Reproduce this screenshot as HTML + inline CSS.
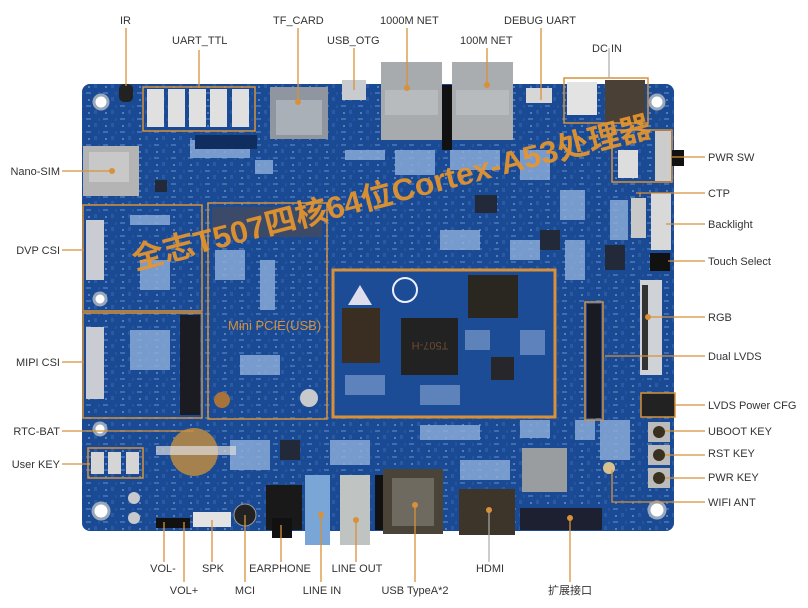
<!DOCTYPE html>
<html><head><meta charset="utf-8"><style>
html,body{margin:0;padding:0;background:#fff;}
svg{display:block;font-family:"Liberation Sans","Noto Sans CJK SC",sans-serif;}
.l{font-size:11px;fill:#333;}
</style></head><body>
<svg width="808" height="608" viewBox="0 0 808 608" xmlns="http://www.w3.org/2000/svg">
<defs>
<pattern id="tx" width="17" height="13" patternUnits="userSpaceOnUse">
<rect width="17" height="13" fill="#1a4993"/>
<rect x="1" y="1" width="5" height="2" fill="#4f7dbf"/>
<rect x="9" y="6" width="3" height="4" fill="#3261a9"/>
<rect x="3" y="8" width="2" height="2" fill="#7094c8"/>
<rect x="13" y="1" width="2" height="3" fill="#2a58a0"/>
</pattern>
</defs>
<!-- board -->
<rect x="82" y="84" width="592" height="447" rx="8" fill="url(#tx)"/>
<rect x="82" y="84" width="592" height="447" rx="8" fill="#1c4b96" opacity="0.3"/>
<!-- misc small components -->
<g fill="#8fb0dc" opacity="0.8">
<rect x="190" y="140" width="60" height="18"/><rect x="255" y="160" width="18" height="14"/>
<rect x="345" y="150" width="40" height="10"/><rect x="395" y="150" width="40" height="25"/>
<rect x="450" y="150" width="50" height="20"/><rect x="520" y="150" width="30" height="30"/>
<rect x="560" y="190" width="25" height="30"/><rect x="440" y="230" width="40" height="20"/>
<rect x="510" y="240" width="30" height="20"/><rect x="565" y="240" width="20" height="40"/>
<rect x="215" y="250" width="30" height="30"/><rect x="260" y="260" width="15" height="50"/>
<rect x="130" y="215" width="40" height="10"/><rect x="140" y="260" width="30" height="30"/>
<rect x="130" y="330" width="40" height="40"/><rect x="240" y="355" width="40" height="20"/>
<rect x="600" y="420" width="30" height="40"/><rect x="420" y="425" width="60" height="15"/>
<rect x="330" y="440" width="40" height="25"/><rect x="230" y="440" width="40" height="30"/>
<rect x="460" y="460" width="50" height="20"/><rect x="575" y="420" width="20" height="20"/>
<rect x="520" y="420" width="30" height="18"/><rect x="610" y="200" width="18" height="40"/>
</g>
<g fill="#222a3a">
<rect x="475" y="195" width="22" height="18"/><rect x="540" y="230" width="20" height="20"/>
<rect x="605" y="245" width="20" height="25"/><rect x="280" y="440" width="20" height="20"/>
<rect x="155" y="180" width="12" height="12"/>
</g>
<!-- mounting holes -->
<g fill="#fff" stroke="#9aa8bd" stroke-width="3">
<circle cx="101" cy="102" r="7"/><circle cx="657" cy="102" r="7"/>
<circle cx="101" cy="511" r="8"/><circle cx="657" cy="510" r="8"/>
<circle cx="100" cy="299" r="6"/><circle cx="100" cy="429" r="6"/>
</g>
<!-- IR -->
<rect x="119" y="84" width="14" height="18" rx="5" fill="#222"/>
<!-- UART_TTL -->
<rect x="143" y="87" width="112" height="44" fill="none" stroke="#d8913a" stroke-width="1.5"/>
<g fill="#e0e0e0"><rect x="147" y="89" width="17" height="38"/><rect x="168" y="89" width="17" height="38"/><rect x="189" y="89" width="17" height="38"/><rect x="210" y="89" width="17" height="38"/><rect x="232" y="89" width="17" height="38"/></g>
<rect x="195" y="135" width="62" height="14" fill="#0f2d5e"/>
<!-- TF card -->
<rect x="270" y="87" width="58" height="52" fill="#8f96a0"/>
<rect x="276" y="100" width="46" height="35" fill="#aab0b8"/>
<!-- USB OTG -->
<rect x="342" y="80" width="24" height="20" fill="#c8ccd0"/>
<!-- Ethernet -->
<rect x="381" y="62" width="61" height="78" fill="#a7abae"/>
<rect x="442" y="85" width="10" height="65" fill="#111"/>
<rect x="452" y="62" width="61" height="78" fill="#a9adb0"/>
<rect x="385" y="90" width="53" height="25" fill="#b8bbbd"/>
<rect x="456" y="90" width="53" height="25" fill="#b8bbbd"/>
<!-- debug uart -->
<rect x="526" y="88" width="26" height="15" fill="#d7d7d7"/>
<!-- DC IN -->
<rect x="564" y="78" width="84" height="45" fill="none" stroke="#d8913a" stroke-width="1.5"/>
<rect x="567" y="82" width="30" height="33" fill="#e3e3e3"/>
<rect x="605" y="80" width="40" height="42" fill="#4a4035"/>
<!-- PWR SW -->
<rect x="612" y="130" width="60" height="52" fill="none" stroke="#d8913a" stroke-width="1.5"/>
<rect x="618" y="150" width="20" height="28" fill="#ddd"/>
<rect x="655" y="131" width="16" height="50" fill="#ccc"/>
<rect x="672" y="150" width="12" height="16" fill="#111"/>
<!-- nano sim -->
<rect x="83" y="146" width="56" height="50" fill="#b4b4b4"/>
<rect x="89" y="152" width="40" height="30" fill="#c8c8c8"/>
<!-- CTP backlight -->
<rect x="631" y="198" width="15" height="40" fill="#c9c9c9"/>
<rect x="651" y="193" width="20" height="57" fill="#d9d9d9"/>
<rect x="650" y="253" width="20" height="18" fill="#111"/>
<!-- DVP / MIPI -->
<rect x="83" y="205" width="119" height="106" fill="none" stroke="#d8913a" stroke-width="1.5"/>
<rect x="83" y="313" width="119" height="105" fill="none" stroke="#d8913a" stroke-width="1.5"/>
<rect x="86" y="220" width="18" height="60" fill="#c9ccd3"/>
<rect x="86" y="327" width="18" height="72" fill="#c9ccd3"/>
<rect x="180" y="315" width="20" height="100" fill="#1b1b22"/>
<!-- Mini PCIe -->
<rect x="208" y="203" width="119" height="216" fill="none" stroke="#d8913a" stroke-width="1.5"/>
<rect x="212" y="207" width="110" height="30" fill="#3a4a68"/>
<text x="228" y="330" font-size="13" fill="#d8913a">Mini PCIE(USB)</text>
<circle cx="222" cy="400" r="8" fill="#a8733a"/>
<circle cx="309" cy="398" r="9" fill="#c7c9cd"/>
<!-- core -->
<rect x="333" y="270" width="222" height="147" fill="#1d4c96" stroke="#d8913a" stroke-width="3"/>
<rect x="342" y="308" width="38" height="55" fill="#3a2d22"/>
<rect x="401" y="318" width="57" height="57" fill="#222"/>
<text x="430" y="350" font-size="11" fill="#6a4a30" text-anchor="middle" transform="rotate(180 430 346)">T507-H</text>
<rect x="468" y="275" width="50" height="43" fill="#2a2620"/>
<rect x="491" y="357" width="23" height="23" fill="#27262a"/>
<g fill="#6f90c4" opacity="0.8"><rect x="465" y="330" width="25" height="20"/><rect x="420" y="385" width="40" height="20"/><rect x="520" y="330" width="25" height="25"/><rect x="345" y="375" width="40" height="20"/></g>
<polygon points="360,285 372,305 348,305" fill="#dde"/>
<circle cx="405" cy="290" r="12" fill="none" stroke="#eef" stroke-width="2"/>
<!-- right header -->
<rect x="585" y="302" width="18" height="118" fill="none" stroke="#d8913a" stroke-width="1.5"/>
<rect x="587" y="304" width="14" height="114" fill="#1a1a22"/>
<!-- RGB -->
<rect x="640" y="280" width="22" height="95" fill="#cfd2d6"/>
<rect x="642" y="285" width="6" height="85" fill="#333"/>
<!-- LVDS power cfg -->
<rect x="641" y="393" width="34" height="24" fill="#222" stroke="#d8913a" stroke-width="1.5"/>
<!-- keys -->
<g fill="#bbb"><rect x="648" y="422" width="22" height="20"/><rect x="648" y="445" width="22" height="20"/><rect x="648" y="468" width="22" height="20"/></g>
<g fill="#3a3020"><circle cx="659" cy="432" r="6"/><circle cx="659" cy="455" r="6"/><circle cx="659" cy="478" r="6"/></g>
<!-- rtc bat -->
<circle cx="194" cy="452" r="24" fill="#a5814e"/>
<rect x="156" y="446" width="80" height="9" fill="#ddd" opacity="0.7"/>
<!-- user keys -->
<rect x="88" y="448" width="55" height="30" fill="none" stroke="#d8913a" stroke-width="1.5"/>
<g fill="#d5d5d5"><rect x="91" y="452" width="13" height="22"/><rect x="108" y="452" width="13" height="22"/><rect x="126" y="452" width="13" height="22"/></g>
<circle cx="134" cy="498" r="6" fill="#c7c9cd"/><circle cx="134" cy="518" r="6" fill="#c7c9cd"/>
<!-- bottom components -->
<rect x="156" y="518" width="34" height="10" fill="#111"/>
<rect x="193" y="512" width="38" height="15" fill="#e3e3e3"/>
<circle cx="245" cy="515" r="11" fill="#222" stroke="#999"/>
<rect x="266" y="485" width="36" height="45" fill="#191919"/>
<rect x="272" y="518" width="20" height="20" fill="#111"/>
<rect x="305" y="475" width="25" height="70" fill="#79a6d6"/>
<rect x="340" y="475" width="30" height="70" fill="#bfc3c2"/>
<rect x="375" y="475" width="8" height="55" fill="#111"/>
<rect x="383" y="469" width="60" height="65" fill="#4a4338"/>
<rect x="392" y="478" width="42" height="48" fill="#6f6a60"/>
<rect x="459" y="489" width="56" height="46" fill="#3d342a"/>
<rect x="522" y="448" width="45" height="44" fill="#9a9da0"/>
<rect x="520" y="508" width="82" height="22" fill="#1c2030"/>
<circle cx="609" cy="468" r="6" fill="#d8c090"/>
<!-- watermark -->
<text x="135" y="270" font-size="31" font-weight="bold" fill="#e8952d" opacity="0.92" transform="rotate(-14.5 135 270)" textLength="535" lengthAdjust="spacingAndGlyphs">全志T507四核64位Cortex-A53处理器</text>
<!-- leader lines -->
<g stroke="#d8913a" stroke-width="1.3" fill="none">
<path d="M126 28V86M199 50V88M298 28V102M354 48V90M407 28V88M487 48V85M541 28V100"/>
<path d="M62 171H112M62 250H84M62 362H84M62 431H194M62 464H90"/>
<path d="M672 157H705M636 193H705M640 197V193M666 224H705M668 261H705M648 317H705M605 356H705M675 405H705M665 431H705M665 455H705M665 478H705M612 470V502H705"/>
<path d="M164 522V562M184 522V582M212 520V562M245 515V582M281 525V562M321 515V582M356 520V562M415 505V582M570 518V582"/>
</g>
<path d="M609 48V78M489 510V562" stroke="#aaa" stroke-width="1.2"/>
<g fill="#d8913a"><circle cx="407" cy="88" r="3"/><circle cx="487" cy="85" r="3"/><circle cx="298" cy="102" r="3"/><circle cx="112" cy="171" r="3"/><circle cx="648" cy="317" r="3"/><circle cx="415" cy="505" r="3"/><circle cx="489" cy="510" r="3"/><circle cx="570" cy="518" r="3"/><circle cx="321" cy="515" r="3"/><circle cx="356" cy="520" r="3"/></g>
<!-- labels -->
<g class="l">
<text x="120" y="24">IR</text>
<text x="172" y="44">UART_TTL</text>
<text x="273" y="24">TF_CARD</text>
<text x="327" y="44">USB_OTG</text>
<text x="380" y="24">1000M NET</text>
<text x="460" y="44">100M NET</text>
<text x="504" y="24">DEBUG UART</text>
<text x="592" y="52">DC IN</text>
<text x="708" y="161">PWR SW</text>
<text x="708" y="197">CTP</text>
<text x="708" y="228">Backlight</text>
<text x="708" y="265">Touch Select</text>
<text x="708" y="321">RGB</text>
<text x="708" y="360">Dual LVDS</text>
<text x="708" y="409">LVDS Power CFG</text>
<text x="708" y="435">UBOOT KEY</text>
<text x="708" y="457">RST KEY</text>
<text x="708" y="481">PWR KEY</text>
<text x="708" y="506">WIFI ANT</text>
<text x="60" y="175" text-anchor="end">Nano-SIM</text>
<text x="60" y="254" text-anchor="end">DVP CSI</text>
<text x="60" y="366" text-anchor="end">MIPI CSI</text>
<text x="60" y="435" text-anchor="end">RTC-BAT</text>
<text x="60" y="468" text-anchor="end">User KEY</text>
<text x="163" y="572" text-anchor="middle">VOL-</text>
<text x="184" y="594" text-anchor="middle">VOL+</text>
<text x="213" y="572" text-anchor="middle">SPK</text>
<text x="245" y="594" text-anchor="middle">MCI</text>
<text x="280" y="572" text-anchor="middle">EARPHONE</text>
<text x="322" y="594" text-anchor="middle">LINE IN</text>
<text x="357" y="572" text-anchor="middle">LINE OUT</text>
<text x="415" y="594" text-anchor="middle">USB TypeA*2</text>
<text x="490" y="572" text-anchor="middle">HDMI</text>
<text x="570" y="594" text-anchor="middle">扩展接口</text>
</g>
</svg>
</body></html>
